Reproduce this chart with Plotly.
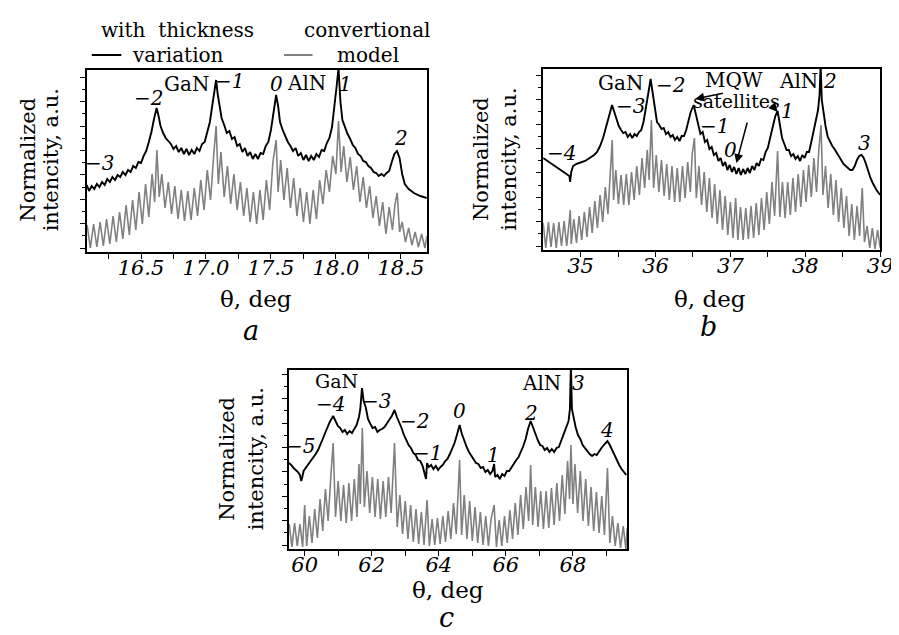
import plotly.graph_objects as go

# ---------------- DATA ----------------
# Panel a : theta (deg) and normalized intensity (arbitrary units, 0..182)
a_black_theta = [16.083,16.10,16.12,16.14,16.16,16.18,16.20,16.22,16.24,16.26,16.28,16.30,16.32,16.34,16.36,16.38,16.40,16.42,16.44,16.46,16.48,16.50,16.52,16.54,16.56,16.58,16.60,16.62,16.635,16.65,16.67,16.69,16.71,16.73,16.75,16.77,16.79,16.81,16.83,16.85,16.87,16.89,16.91,16.93,16.95,16.97,16.99,17.01,17.03,17.05,17.065,17.078,17.09,17.105,17.12,17.14,17.16,17.18,17.20,17.22,17.24,17.26,17.28,17.30,17.32,17.34,17.36,17.38,17.40,17.42,17.44,17.46,17.48,17.50,17.52,17.54,17.555,17.57,17.59,17.61,17.63,17.65,17.67,17.69,17.71,17.73,17.75,17.77,17.79,17.81,17.83,17.85,17.87,17.89,17.91,17.93,17.95,17.97,17.99,18.005,18.02,18.035,18.05,18.07,18.09,18.11,18.13,18.15,18.17,18.19,18.21,18.23,18.25,18.27,18.29,18.31,18.33,18.35,18.37,18.39,18.41,18.43,18.45,18.47,18.49,18.51,18.53,18.56,18.60,18.65,18.70]
a_black_int = [67,61,66,63,68,65,70,67,73,70,75,72,77,75,80,77,82,80,86,84,90,89,96,101,110,120,133,144,136,126,119,114,111,108,103,106,100,104,98,103,97,102,98,104,101,108,110,120,130,148,163,172,158,145,134,127,119,121,113,115,106,108,100,104,96,100,93,98,93,99,98,106,110,122,138,157,146,130,122,116,110,106,101,104,96,99,92,97,91,96,92,98,95,102,101,109,114,125,145,165,184,150,132,124,118,113,107,104,98,96,91,90,86,84,80,79,76,78,76,79,81,90,98,101,94,78,68,63,59,56,54]

a_gray_theta = [16.085,16.11,16.135,16.16,16.185,16.21,16.235,16.26,16.285,16.31,16.335,16.36,16.385,16.41,16.435,16.46,16.485,16.51,16.535,16.56,16.585,16.605,16.622,16.64,16.66,16.685,16.71,16.735,16.76,16.785,16.81,16.835,16.86,16.885,16.91,16.935,16.96,16.985,17.01,17.035,17.06,17.078,17.095,17.115,17.14,17.165,17.19,17.215,17.24,17.265,17.29,17.315,17.34,17.365,17.39,17.415,17.44,17.465,17.49,17.515,17.54,17.555,17.575,17.6,17.625,17.65,17.675,17.7,17.725,17.75,17.775,17.8,17.825,17.85,17.875,17.9,17.925,17.95,17.975,18.0,18.02,18.04,18.06,18.085,18.11,18.135,18.16,18.185,18.21,18.235,18.26,18.285,18.31,18.335,18.36,18.385,18.41,18.435,18.455,18.472,18.49,18.51,18.535,18.56,18.585,18.61,18.635,18.66,18.685,18.70]
a_gray_int = [27,4,28,5,30,6,33,8,36,10,40,13,47,17,52,22,60,28,68,35,78,50,102,55,78,44,70,38,66,33,62,31,61,32,64,36,72,42,82,52,98,126,68,100,55,86,48,78,42,70,36,64,30,60,28,62,32,72,42,90,112,60,92,52,84,44,74,36,64,30,60,28,62,33,72,48,82,60,96,78,131,80,106,70,95,62,86,50,75,44,66,34,56,26,50,18,45,22,48,59,20,30,10,24,7,20,5,18,4,16]

# Panel b
b_black_theta = [34.50,34.54,34.58,34.62,34.66,34.70,34.74,34.78,34.82,34.85,34.86,34.875,34.90,34.94,34.98,35.02,35.06,35.10,35.14,35.18,35.22,35.26,35.30,35.34,35.38,35.42,35.45,35.48,35.51,35.54,35.57,35.60,35.63,35.66,35.69,35.72,35.75,35.78,35.81,35.84,35.87,35.90,35.935,35.96,35.99,36.02,36.05,36.08,36.11,36.14,36.17,36.20,36.23,36.26,36.29,36.32,36.35,36.38,36.41,36.44,36.47,36.51,36.54,36.57,36.60,36.63,36.66,36.69,36.72,36.75,36.78,36.81,36.84,36.87,36.90,36.93,36.96,36.99,37.02,37.05,37.08,37.11,37.14,37.17,37.20,37.23,37.26,37.29,37.32,37.35,37.38,37.41,37.44,37.47,37.50,37.53,37.57,37.60,37.63,37.66,37.69,37.72,37.75,37.78,37.81,37.84,37.87,37.90,37.93,37.96,37.99,38.02,38.05,38.08,38.11,38.14,38.17,38.19,38.205,38.22,38.24,38.27,38.30,38.33,38.36,38.39,38.42,38.45,38.48,38.51,38.54,38.57,38.60,38.63,38.66,38.69,38.72,38.75,38.78,38.81,38.84,38.87,38.90,38.95,39.00]
b_black_int = [92,90,88,86,84,82,80,78,76,74,68,78,84,86,87,88,89,91,93,95,98,104,112,124,136,145,138,130,124,120,117,118,113,116,112,116,114,118,120,128,140,155,171,158,140,128,125,121,122,116,118,113,115,110,113,109,114,114,120,128,138,145,135,126,116,118,108,110,101,103,95,97,89,92,84,88,80,85,78,83,76,82,75,81,76,82,77,84,80,87,84,91,90,98,102,112,125,134,139,125,112,106,100,100,94,96,91,94,89,95,92,98,98,108,118,128,140,155,185,150,138,124,113,108,104,101,97,93,89,86,84,82,80,80,84,90,94,95,92,86,78,72,67,60,55]

b_gray_theta = [34.50,34.535,34.57,34.605,34.64,34.675,34.71,34.745,34.78,34.815,34.85,34.862,34.875,34.91,34.945,34.98,35.015,35.05,35.085,35.12,35.155,35.19,35.225,35.26,35.295,35.33,35.365,35.395,35.422,35.44,35.47,35.505,35.54,35.575,35.61,35.645,35.68,35.715,35.75,35.785,35.82,35.855,35.89,35.915,35.945,35.975,36.01,36.045,36.08,36.115,36.15,36.185,36.22,36.255,36.29,36.325,36.36,36.395,36.43,36.465,36.49,36.52,36.545,36.58,36.615,36.65,36.685,36.72,36.755,36.79,36.825,36.86,36.895,36.93,36.965,37.0,37.035,37.07,37.1,37.135,37.17,37.205,37.24,37.275,37.31,37.345,37.38,37.415,37.45,37.485,37.52,37.555,37.59,37.63,37.66,37.695,37.73,37.765,37.8,37.835,37.87,37.905,37.94,37.975,38.01,38.045,38.08,38.115,38.15,38.18,38.21,38.235,38.27,38.305,38.34,38.375,38.41,38.445,38.48,38.515,38.55,38.585,38.62,38.655,38.69,38.725,38.76,38.79,38.825,38.86,38.895,38.93,38.965,39.0]
b_gray_int = [27,2,28,3,27,2,28,4,29,4,30,40,6,31,7,34,10,38,13,43,17,49,22,55,28,63,36,78,110,50,80,46,75,45,76,45,78,50,84,55,92,62,100,70,130,62,95,58,90,54,86,50,84,48,82,48,84,52,88,58,96,112,52,84,45,78,38,72,32,66,26,60,20,54,15,48,12,52,10,43,10,42,11,44,12,47,15,52,20,58,26,68,34,99,33,68,32,68,35,72,38,76,43,80,48,85,53,92,58,100,125,55,84,42,76,35,70,28,62,22,54,14,46,10,44,14,62,8,24,2,22,1,20,2]

# Panel c
c_black_theta = [59.53,59.60,59.67,59.74,59.80,59.86,59.90,59.93,59.97,60.05,60.12,60.19,60.26,60.33,60.40,60.47,60.54,60.61,60.68,60.75,60.85,60.92,60.99,61.06,61.13,61.20,61.27,61.34,61.41,61.48,61.55,61.62,61.66,61.71,61.76,61.82,61.89,61.96,62.03,62.10,62.17,62.24,62.31,62.38,62.45,62.52,62.60,62.68,62.75,62.82,62.89,62.96,63.03,63.10,63.17,63.24,63.31,63.38,63.45,63.52,63.58,63.62,63.65,63.70,63.77,63.84,63.91,63.98,64.05,64.12,64.19,64.26,64.33,64.40,64.47,64.54,64.62,64.69,64.76,64.83,64.90,64.97,65.04,65.11,65.18,65.25,65.32,65.39,65.46,65.53,65.60,65.65,65.68,65.75,65.82,65.89,65.96,66.03,66.10,66.17,66.24,66.31,66.38,66.45,66.52,66.59,66.66,66.74,66.81,66.88,66.95,67.02,67.09,67.16,67.23,67.30,67.37,67.44,67.51,67.58,67.65,67.72,67.80,67.87,67.91,67.94,67.97,68.02,68.08,68.15,68.22,68.29,68.36,68.43,68.50,68.57,68.64,68.71,68.78,68.85,68.92,68.99,69.03,69.10,69.17,69.24,69.31,69.38,69.45,69.52,69.59]
c_black_int = [86,84,81,79,77,74,68,72,78,82,85,88,91,95,99,104,110,116,122,127,133,128,123,121,117,119,115,118,116,120,124,132,140,161,148,142,130,125,121,122,117,119,120,122,126,129,133,139,132,127,121,114,109,104,101,96,94,89,88,83,75,70,86,82,84,80,83,79,82,84,88,90,95,100,106,114,124,115,108,102,97,93,90,86,85,81,82,77,79,75,78,85,72,74,70,75,73,78,78,82,85,89,92,97,103,110,120,128,121,114,109,104,103,99,101,97,100,97,101,102,108,114,122,128,140,184,140,131,122,114,110,104,101,97,95,93,95,94,98,101,104,107,108,104,99,94,88,84,80,77,74]

c_gray_theta = [59.54,59.62,59.70,59.78,59.86,59.94,60.00,60.06,60.14,60.22,60.30,60.38,60.46,60.54,60.62,60.70,60.78,60.85,60.92,61.00,61.08,61.16,61.24,61.32,61.40,61.48,61.56,61.62,61.66,61.72,61.78,61.86,61.94,62.02,62.10,62.18,62.26,62.34,62.42,62.50,62.58,62.68,62.76,62.84,62.92,63.00,63.08,63.16,63.24,63.32,63.40,63.48,63.56,63.65,63.72,63.80,63.88,63.96,64.04,64.12,64.20,64.28,64.36,64.44,64.52,64.58,64.62,64.68,64.76,64.84,64.92,65.00,65.08,65.16,65.24,65.32,65.40,65.48,65.56,65.65,65.72,65.80,65.88,65.96,66.04,66.12,66.20,66.28,66.36,66.44,66.52,66.60,66.68,66.74,66.80,66.88,66.96,67.04,67.12,67.20,67.28,67.36,67.44,67.52,67.60,67.68,67.76,67.84,67.90,67.94,68.00,68.06,68.14,68.22,68.30,68.38,68.46,68.54,68.62,68.70,68.78,68.86,68.94,69.03,69.10,69.18,69.26,69.34,69.42,69.50,69.58,69.62]
c_gray_int = [25,2,26,3,25,2,44,3,33,6,40,11,50,18,60,28,72,106,32,68,28,64,26,66,28,70,32,85,45,121,42,78,36,72,32,70,30,68,32,72,36,106,22,54,15,48,10,44,7,40,5,37,4,49,3,30,4,31,5,33,7,38,10,46,15,62,89,14,54,10,48,8,42,6,37,4,33,3,30,44,2,29,3,33,6,39,10,46,14,54,20,62,28,84,24,62,22,58,20,58,21,61,24,66,28,74,35,88,50,104,45,85,36,78,28,70,23,62,18,57,16,53,14,81,6,33,3,26,1,23,0,21]

# Axis ticks and labels
a_tickvals = [16.25,16.5,16.75,17.0,17.25,17.5,17.75,18.0,18.25,18.5]
a_ticktext = ["","16.5","","17.0","","17.5","","18.0","","18.5"]
b_tickvals = [35,35.5,36,36.5,37,37.5,38,38.5,39]
b_ticktext = ["35","","36","","37","","38","","39"]
c_tickvals = [60,61,62,63,64,65,66,67,68,69]
c_ticktext = ["60","","62","","64","","66","","68",""]

series_names = ["with  thickness variation", "convertional model"]

# ---------------- FIGURE ----------------
W, H = 899, 635
def px(x): return x / W
def py(y): return 1 - y / H

SERIF = "DejaVu Serif"
BLACK = "#000000"
GRAY = "#808080"

fig = go.Figure()
panels = [
    ("x", "y", a_gray_theta, a_gray_int, a_black_theta, a_black_int),
    ("x2", "y2", b_gray_theta, b_gray_int, b_black_theta, b_black_int),
    ("x3", "y3", c_gray_theta, c_gray_int, c_black_theta, c_black_int),
]
for xa, ya, gx, gy, bx, by in panels:
    fig.add_trace(go.Scatter(x=gx, y=gy, mode="lines", xaxis=xa, yaxis=ya,
                             line=dict(color=GRAY, width=1.6), name=series_names[1], showlegend=False))
    fig.add_trace(go.Scatter(x=bx, y=by, mode="lines", xaxis=xa, yaxis=ya,
                             line=dict(color=BLACK, width=1.9), name=series_names[0], showlegend=False))

def ital(lst):
    return [f"<i>{t}</i>" if t else "" for t in lst]

def xax(domain, rng, tv, tt, anchor):
    return dict(domain=domain, range=rng, anchor=anchor, tickvals=tv, ticktext=ital(tt),
                showline=True, mirror=True, linecolor="black", linewidth=1.6,
                ticks="outside", ticklen=5, tickwidth=1.3, tickcolor="black",
                showgrid=False, zeroline=False, ticklabelstandoff=-9,
                tickfont=dict(family=SERIF, size=21, color="black"))

def yax(domain, rng, anchor):
    return dict(domain=domain, range=rng, anchor=anchor,
                showline=True, mirror=True, linecolor="black", linewidth=1.6,
                ticks="outside", ticklen=5, tickwidth=1.2, tickcolor="black",
                tick0=4, dtick=24.4, showticklabels=False,
                minor=dict(ticks="outside", ticklen=3, tickwidth=1.2, tickcolor="black", dtick=12.2, tick0=4),
                showgrid=False, zeroline=False)

fig.update_layout(
    width=W, height=H, autosize=False,
    margin=dict(l=0, r=0, t=0, b=0),
    paper_bgcolor="white", plot_bgcolor="white",
    showlegend=False,
    xaxis=xax([px(80), px(425)], [16.083, 18.70], a_tickvals, a_ticktext, "y"),
    yaxis=yax([py(244), py(62)], [0, 182], "x"),
    xaxis2=xax([px(543), px(885)], [34.5, 39.0], b_tickvals, b_ticktext, "y2"),
    yaxis2=yax([py(242), py(61)], [0, 181], "x2"),
    xaxis3=xax([px(285), px(628)], [59.53, 69.61], c_tickvals, c_ticktext, "y3"),
    yaxis3=yax([py(541), py(362)], [0, 179], "x3"),
)

ann = []
def lab(text, x, y, xref, yref, size=20, italic=False, angle=0):
    t = f"<i>{text}</i>" if italic else text
    ann.append(dict(text=t, x=x, y=y, xref=xref, yref=yref, showarrow=False,
                    xanchor="center", yanchor="middle", textangle=angle,
                    font=dict(family=SERIF, size=size, color="black")))

# Peak labels panel a
lab("−3", 16.18, 89, "x", "y", italic=True)
lab("−2", 16.56, 154, "x", "y", italic=True)
lab("GaN", 16.85, 168, "x", "y")
lab("−1", 17.18, 171, "x", "y", italic=True)
lab("0", 17.545, 168, "x", "y", italic=True)
lab("AlN", 17.77, 169, "x", "y")
lab("1", 18.075, 168, "x", "y", italic=True)
lab("2", 18.5, 114, "x", "y", italic=True)
# panel b
lab("−4", 34.75, 97, "x2", "y2", italic=True)
lab("GaN", 35.53, 167, "x2", "y2")
lab("−3", 35.66, 144, "x2", "y2", italic=True)
lab("−2", 36.2, 165, "x2", "y2", italic=True)
lab("MQW", 37.05, 170, "x2", "y2")
lab("satellites", 37.08, 149, "x2", "y2", size=19)
lab("−1", 36.79, 124, "x2", "y2", italic=True)
lab("0", 37.0, 100, "x2", "y2", italic=True)
lab("AlN", 37.91, 169, "x2", "y2")
lab("2", 38.33, 169, "x2", "y2", italic=True)
lab("1", 37.76, 139, "x2", "y2", italic=True)
lab("3", 38.79, 107, "x2", "y2", italic=True)
# panel c
lab("−5", 59.88, 103, "x3", "y3", italic=True)
lab("GaN", 60.94, 168, "x3", "y3", size=19)
lab("−4", 60.76, 145, "x3", "y3", italic=True)
lab("−3", 62.14, 148, "x3", "y3", italic=True)
lab("−2", 63.28, 128, "x3", "y3", italic=True)
lab("−1", 63.65, 96, "x3", "y3", italic=True)
lab("0", 64.62, 138, "x3", "y3", italic=True)
lab("1", 65.62, 94, "x3", "y3", italic=True)
lab("2", 66.74, 136, "x3", "y3", italic=True)
lab("AlN", 67.07, 166, "x3", "y3")
lab("3", 68.17, 166, "x3", "y3", italic=True)
lab("4", 69.03, 119, "x3", "y3", italic=True)

# arrows in panel b
for (x0, y0, x1, y1) in [(36.92, 157, 36.53, 151), (37.55, 145, 37.63, 138), (37.23, 129, 37.08, 87)]:
    ann.append(dict(x=x1, y=y1, ax=x0, ay=y0, xref="x2", yref="y2", axref="x2", ayref="y2",
                    showarrow=True, arrowhead=2, arrowsize=1.2, arrowwidth=1.5, arrowcolor="black", text=""))

# axis titles and panel letters
for cx, tx_y in [(252, 291), (712, 291), (446, 582)]:
    lab("θ, deg", px(cx), py(tx_y), "paper", "paper", size=23)
for cx, let_y, L in [(247, 322, "a"), (711, 318, "b"), (445, 609, "c")]:
    lab(L, px(cx), py(let_y), "paper", "paper", size=27, italic=True)
for x1, x2, cy in [(20, 44, 152), (480, 508, 151), (222, 252, 451)]:
    lab("Normalized", px(x1), py(cy), "paper", "paper", size=21, angle=-90)
    lab("intencity, a.u.", px(x2), py(cy), "paper", "paper", size=21, angle=-90)

# legend
lab("with  thickness", px(172), py(22), "paper", "paper", size=20)
lab("variation", px(172), py(47), "paper", "paper", size=20)
lab("convertional", px(365), py(22), "paper", "paper", size=20)
lab("model", px(365), py(47), "paper", "paper", size=20)
fig.update_layout(annotations=ann, shapes=[
    dict(type="line", xref="paper", yref="paper", x0=px(85), x1=px(115), y0=py(47), y1=py(47),
         line=dict(color=BLACK, width=2)),
    dict(type="line", xref="paper", yref="paper", x0=px(280), x1=px(309), y0=py(47), y1=py(47),
         line=dict(color=GRAY, width=2)),
])

fig.write_html("out.html")
